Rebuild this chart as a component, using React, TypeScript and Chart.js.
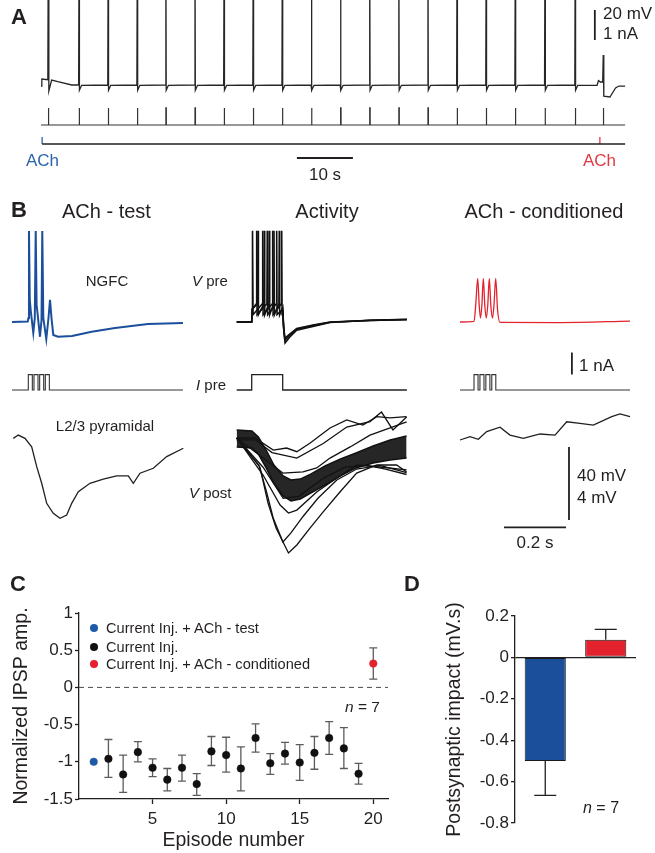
import React, { useEffect, useRef } from 'react';
import { Chart, registerables } from 'chart.js';
Chart.register(...registerables);

const FONT = '"Liberation Sans", Arial, Helvetica, sans-serif';
const INK = '#231f20';
const BLUE = '#1b4f9c';
const BLUE_DOT = '#1d5aa6';
const RED = '#e3222e';
const ACH_BLUE = '#2a64ad';
const ACH_RED = '#e03a45';

// ---------------- Panel A data (time in s, membrane in mV, current in nA) ----------------
const aOnset = [[0, -65.7], [0.15, -61], [1.22, -61.5], [1.3, 30], [1.4, -69], [1.9, -61.7], [3.0, -62.8], [5.5, -65]];
const aSpikeTimes = [6.8, 12.0, 17.2, 22.3, 27.5, 32.7, 37.9, 43.1, 48.3, 53.5, 58.7, 63.9, 69.1, 74.3, 79.5, 84.7, 90.0, 95.4];
const aSpikeShape = [[-0.08, -65], [0, 30], [0.06, -68.5], [0.45, -65.2]];
const aEnd = [[99.3, -65.2], [99.55, -62], [99.9, -63], [100.3, -63], [100.4, -45], [100.5, -72.5], [101.6, -73], [102.6, -67], [103.2, -65.7], [104.3, -65.7]];
const aStimTimes = [1.3, 6.8, 12.0, 17.2, 22.3, 27.5, 32.7, 37.9, 43.1, 48.3, 53.5, 58.7, 63.9, 69.1, 74.3, 79.5, 84.7, 90.0, 95.4, 100.4];
const aStimAmp = 0.57;
const aStimDur = 0.08;
const aEndTime = 104.3;
const aAchTimes = [0.2, 99.8];
const aAchColors = [ACH_BLUE, ACH_RED];
const aMvBar = { t: 98.9, from: -35, to: -15 };
const aTimeBar = { from: 45.7, to: 55.7, level: -2 };

// ---------------- Panel B data (time in ms, V pre in mV, I pre in nA, V post in mV rel.) ----------------
const bTestPre = [[0, -65], [50.6, -64.7], [53.2, -62.8], [54.8, -15.1], [57.4, -52.9], [60.6, -59], [68.7, -71], [73.5, -62.8], [76.5, -15.1], [79.4, -55.7], [82.6, -60.6], [90.3, -73.1], [95.2, -63.9], [97.7, -15.1], [101, -62.8], [110.6, -74.3], [117.7, -62.8], [122.6, -52.9], [127.4, -62.8], [133.2, -72.1], [148.4, -73.1], [193.5, -72.7], [257.1, -70.3], [332.3, -68.3], [438.7, -66.1], [551.6, -65.5]];
const bTestPulseStarts = [52.6, 70.9, 89.2, 107.5];
const bTestPost = [[4.2, -0.02], [20.3, 0.16], [41.9, -0.02], [63.5, -0.48], [79.7, -1.57], [95.8, -2.48], [111.9, -3.58], [133.2, -4.13], [154.8, -4.4], [176.5, -4.22], [192.6, -3.58], [213.9, -2.94], [251.6, -2.48], [294.5, -2.26], [337.7, -2.08], [375.2, -2.08], [391.3, -2.48], [412.9, -1.93], [455.8, -1.66], [499, -1.02], [552.6, -0.56]];
const bPulseDur = 13;
const bPulseAmp = 0.7;

const bActStep = [48.4, 148.4];
const bActOnset = [[0, -65], [48.4, -65], [50, -58]];
const bActSpikesA = [51.6, 83.9, 116.1, 145.2];
const bActSpikesB = [64.5, 98.7, 129.0];
const bActSpikesC = [68.8, 89.1, 105.2, 120.3, 137.4];
const bActSpikeShape = [[-1.2, -55], [0, -15], [1.2, -61]];
const bActTailA = [[148.6, -59], [151, -68], [156, -76.5], [170, -73.5], [193.5, -69.5], [246, -67.4], [301, -65.3], [430, -64], [549, -63.5]];
const bActTailB = [[148.6, -58], [151, -66], [155, -74], [170, -71.8], [193.5, -68.6], [246, -66.6], [301, -65], [430, -64.2], [549, -63.8]];
const bActTailC = [[148.6, -57], [151, -67], [156, -75], [170, -72.5], [193.5, -69], [246, -67], [301, -65.1], [430, -64.1], [549, -63.6]];
const bActEnvT = [0, 49, 70, 95, 120, 150, 175, 205, 240, 285, 335, 385, 440, 495, 548];
const bActEnvHi = [0.44, 0.38, 0.05, -0.66, -1.48, -2.08, -2.3, -2.25, -1.97, -1.53, -1.15, -0.82, -0.44, -0.11, 0.11];
const bActEnvLo = [-0.49, -0.55, -0.88, -1.64, -2.47, -3.18, -3.45, -3.34, -3.01, -2.58, -2.08, -1.64, -1.37, -1.21, -1.1];
const bActPostTop1 = [[0, 0], [59, 0], [118, -0.66], [161, -0.55], [194, -0.75], [237, -0.27], [301, 0.55], [355, 0.99], [407, 0.71], [452, 1.17], [495, 1.1], [548, 1.17]];
const bActPostTop2 = [[0, -0.1], [60, -0.1], [114, -0.8], [194, -1.1], [279, -0.3], [355, 0.6], [430, 0.9], [467, 1.42], [504, 0.44], [548, 1.15]];
const bActPostMid = [[0, 0], [85, -1.1], [149, -1.92], [214, -1.86], [258, -1.64], [301, -1.1], [366, -0.49], [430, 0.16], [495, 0.55], [548, 0.88]];
const bActPostDeepA = [[0, 0], [72, -1.5], [97, -3.0], [118, -4.4], [149, -5.7], [175, -5.2], [214, -4.3], [262, -3.3], [323, -2.3], [387, -1.7], [462, -1.5], [548, -1.9]];
const bActPostDeepB = [[0, 0], [75, -1.6], [101, -3.56], [127, -4.93], [167, -6.3], [194, -5.86], [237, -4.93], [279, -4.05], [333, -2.96], [387, -1.92], [452, -1.48], [516, -1.48], [548, -1.86]];
const bActPostLowA = [[0, 0], [85, -2.03], [140, -3.67], [167, -4.11], [194, -3.95], [258, -2.96], [323, -2.19], [387, -1.48], [462, -1.59], [548, -1.75]];
const bActPostLowB = [[0, 0], [85, -1.6], [150, -3.3], [200, -3.2], [280, -2.2], [350, -1.6], [420, -1.5], [480, -1.7], [548, -2.0]];

const bCondPre = [[0, -65], [45.2, -64.7], [51, -55], [57.1, -41.1], [62, -56], [66.1, -62.8], [70.5, -56], [75.2, -41.1], [80, -56], [84.8, -62.8], [89.5, -56], [94.5, -41.1], [99.5, -56], [104.8, -62.8], [109.5, -56], [115.2, -41.1], [121, -58], [129, -65.2], [322.6, -65.3], [548.4, -64.5]];
const bCondPulseStarts = [45.2, 64.3, 83.4, 102.5];
const bCondPost = [[0, -0.11], [32.3, 0.07], [59.1, -0.07], [86.1, 0.35], [129, 0.59], [161.3, 0.16], [204.2, -0.02], [258.1, 0.22], [306.5, 0.16], [344.2, 0.89], [387.1, 0.8], [430, 0.71], [489.4, 1.17], [516.1, 1.32], [548.4, 1.17]];
const bNaBar = { t: 361, from: 0.7, to: 1.7 };
const bMvBar = { t: 351.6, from: -0.5, to: -4.5 };
const bTimeBar = { from: 142, to: 342, level: -4.9 };

// ---------------- Panel C data ----------------
const cTestEpisode = [1];
const cTestValue = [-1.0];
const cInjEpisodes = [2, 3, 4, 5, 6, 7, 8, 9, 10, 11, 12, 13, 14, 15, 16, 17, 18, 19];
const cInjValues = [-0.96, -1.17, -0.87, -1.08, -1.24, -1.08, -1.3, -0.86, -0.91, -1.09, -0.68, -1.02, -0.89, -1.01, -0.88, -0.68, -0.82, -1.16];
const cInjUpper = [-0.7, -0.91, -0.73, -0.96, -1.09, -0.91, -1.16, -0.66, -0.67, -0.8, -0.49, -0.89, -0.74, -0.77, -0.66, -0.46, -0.54, -1.02];
const cInjLower = [-1.21, -1.41, -1.0, -1.2, -1.39, -1.26, -1.45, -1.05, -1.14, -1.39, -0.87, -1.17, -1.03, -1.25, -1.1, -0.9, -1.09, -1.3];
const cCondEpisode = [20];
const cCondValue = [0.32];
const cCondUpper = [0.53];
const cCondLower = [0.11];
const cXTicks = [5, 10, 15, 20];
const cLegend = ['Current Inj. + ACh - test', 'Current Inj.', 'Current Inj. + ACh - conditioned'];

// ---------------- Panel D data ----------------
const dLabels = ['ACh - test', 'ACh - conditioned'];
const dValues = [-0.5, 0.085];
const dErrEnd = [-0.667, 0.135];

// ---------------- helpers ----------------
type P = number[][];
const pts = (arr: P) => arr.map(([x, y]) => ({ x, y }));
function spikeTrain(onset: P, spikes: number[], shape: P, tail: P): P {
  const out: P = [...onset];
  spikes.forEach((s) => shape.forEach(([dt, v]) => out.push([s + dt, v])));
  return [...out, ...tail];
}
function pulses(starts: number[], dur: number, amp: number, tEnd: number): P {
  const out: P = [[0, 0]];
  starts.forEach((s) => out.push([s, 0], [s, amp], [s + dur, amp], [s + dur, 0]));
  out.push([tEnd, 0]);
  return out;
}
function line(data: P, yAxisID: string, color = INK, width = 1.2, extra: any = {}) {
  return { data: pts(data), yAxisID, borderColor: color, borderWidth: width, pointRadius: 0, fill: false, tension: 0, ...extra };
}
const hidden = (min: number, max: number, type = 'linear') => ({ type, min, max, display: false });
const cleanNum = (v: any) => `${+(+v).toFixed(2)}`;

const errorBars = {
  id: 'errorBars',
  beforeDatasetsDraw(chart: any) {
    const ctx = chart.ctx;
    chart.data.datasets.forEach((ds: any, i: number) => {
      if (!ds.errUpper) return;
      const meta = chart.getDatasetMeta(i);
      const ys = chart.scales[meta.yAxisID];
      ctx.save();
      ctx.strokeStyle = ds.errColor;
      ctx.lineWidth = ds.errWidth;
      meta.data.forEach((el: any, j: number) => {
        const x = el.x;
        const y1 = ys.getPixelForValue(ds.errUpper[j]);
        const y2 = ys.getPixelForValue(ds.errLower[j]);
        const caps = ds.capAt ? ds.capAt[j] : 'both';
        ctx.beginPath();
        ctx.moveTo(x, y1);
        ctx.lineTo(x, y2);
        if (caps === 'both' || caps === 'upper') { ctx.moveTo(x - ds.capHalf, y1); ctx.lineTo(x + ds.capHalf, y1); }
        if (caps === 'both' || caps === 'lower') { ctx.moveTo(x - ds.capHalf, y2); ctx.lineTo(x + ds.capHalf, y2); }
        ctx.stroke();
      });
      ctx.restore();
    });
  },
};

function ChartBox({ left, top, width, height, make }: { left: number; top: number; width: number; height: number; make: () => any }) {
  const ref = useRef<HTMLCanvasElement>(null);
  useEffect(() => {
    const cfg = make();
    cfg.options = {
      responsive: false,
      animation: false,
      devicePixelRatio: 1,
      events: [],
      ...cfg.options,
      plugins: { legend: { display: false }, tooltip: { enabled: false }, ...(cfg.options?.plugins || {}) },
    };
    const c = new Chart(ref.current as HTMLCanvasElement, cfg);
    return () => c.destroy();
  }, []);
  return <canvas ref={ref} width={width} height={height} style={{ position: 'absolute', left, top, width, height }} />;
}

function Label({ x, cy, size, children, align = 'left', color = INK, bold = false }: any) {
  return (
    <div
      style={{
        position: 'absolute', left: x, top: cy - size / 2, fontSize: size, lineHeight: `${size}px`,
        fontFamily: FONT, color, fontWeight: bold ? 700 : 400, whiteSpace: 'nowrap',
        transform: align === 'center' ? 'translateX(-50%)' : undefined,
      }}
    >
      {children}
    </div>
  );
}

// ---------------- chart configs ----------------
const A_PX_PER_S = 5.6;
const A_X0 = 41;
function makeA() {
  const vm = spikeTrain(aOnset, aSpikeTimes, aSpikeShape, aEnd);
  const im: P = [[0, 0]];
  aStimTimes.forEach((t) => im.push([t, 0], [t, aStimAmp], [t + aStimDur, aStimAmp], [t + aStimDur, 0]));
  im.push([aEndTime, 0]);
  const ds: any[] = [
    line(vm, 'vm', '#262626', 1.3),
    line(im, 'im', '#333', 1.2),
    line([[aAchTimes[0], 0], [aEndTime, 0]], 'ev', INK, 1.3),
    line([[aMvBar.t, aMvBar.from], [aMvBar.t, aMvBar.to]], 'vm', INK, 1.8),
    line([[aTimeBar.from, aTimeBar.level], [aTimeBar.to, aTimeBar.level]], 'ev', INK, 1.8),
  ];
  aAchTimes.forEach((t, i) => ds.push(line([[t, 0], [t, 1]], 'ev', aAchColors[i], 1.3)));
  return {
    type: 'line',
    data: { datasets: ds },
    options: {
      layout: { padding: 0 },
      scales: {
        x: hidden((0 - A_X0) / A_PX_PER_S, (655 - A_X0) / A_PX_PER_S),
        vm: hidden(-135, -8.333),
        im: hidden(-2.1667, 4.1667),
        ev: hidden(-6.571, 20.571),
      },
    },
  };
}

const B_PX_PER_MS = 0.31;
const B_TOP = 220;
const B_H = 345;
const bCols = {
  test: { left: 0, width: 200, x0: 12 },
  act: { left: 200, width: 230, x0: 236.7 },
  cond: { left: 440, width: 215, x0: 460 },
};
function bScales(col: { left: number; width: number; x0: number }) {
  return {
    x: hidden((col.left - col.x0) / B_PX_PER_MS, (col.left + col.width - col.x0) / B_PX_PER_MS),
    vpre: hidden(-198.15, -9.11),
    ipre: hidden(-7.955, 7.727),
    vpost: hidden(-6.959, 11.945),
  };
}
function makeBTest() {
  return {
    type: 'line',
    data: {
      datasets: [
        line(bTestPre, 'vpre', BLUE, 2),
        line(pulses(bTestPulseStarts, bPulseDur, bPulseAmp, 551.6), 'ipre', '#333', 1.1),
        line(bTestPost, 'vpost', INK, 1.3),
      ],
    },
    options: { layout: { padding: 0 }, scales: bScales(bCols.test) },
  };
}
function makeBAct() {
  const stepTrace: P = [[0, 0], [bActStep[0], 0], [bActStep[0], bPulseAmp], [bActStep[1], bPulseAmp], [bActStep[1], 0], [549, 0]];
  const envHi = bActEnvT.map((t, i) => [t, bActEnvHi[i]]);
  const envLo = bActEnvT.map((t, i) => [t, bActEnvLo[i]]);
  return {
    type: 'line',
    data: {
      datasets: [
        line(spikeTrain(bActOnset, bActSpikesA, bActSpikeShape, bActTailA), 'vpre', '#111', 1.6),
        line(spikeTrain(bActOnset, bActSpikesB, bActSpikeShape, bActTailB), 'vpre', '#111', 1.6),
        line(spikeTrain(bActOnset, bActSpikesC, bActSpikeShape, bActTailC), 'vpre', '#111', 1.6),
        line(stepTrace, 'ipre', '#222', 1.3),
        line(envHi, 'vpost', '#111', 1.5),
        line(envLo, 'vpost', '#111', 1.5, { fill: '-1', backgroundColor: 'rgba(20,20,20,0.92)' }),
        line(bActPostTop1, 'vpost', '#111', 1.3),
        line(bActPostTop2, 'vpost', '#111', 1.3),
        line(bActPostMid, 'vpost', '#111', 1.3),
        line(bActPostDeepA, 'vpost', '#111', 1.3),
        line(bActPostDeepB, 'vpost', '#111', 1.3),
        line(bActPostLowA, 'vpost', '#111', 1.3),
        line(bActPostLowB, 'vpost', '#111', 1.3),
      ],
    },
    options: { layout: { padding: 0 }, scales: bScales(bCols.act) },
  };
}
function makeBCond() {
  return {
    type: 'line',
    data: {
      datasets: [
        line(bCondPre, 'vpre', RED, 1.3, { cubicInterpolationMode: 'monotone' }),
        line(pulses(bCondPulseStarts, bPulseDur, bPulseAmp, 548.4), 'ipre', '#333', 1.1),
        line(bCondPost, 'vpost', INK, 1.3),
        line([[bNaBar.t, bNaBar.from], [bNaBar.t, bNaBar.to]], 'ipre', INK, 1.8),
        line([[bMvBar.t, bMvBar.from], [bMvBar.t, bMvBar.to]], 'vpost', INK, 1.8),
        line([[bTimeBar.from, bTimeBar.level], [bTimeBar.to, bTimeBar.level]], 'vpost', INK, 1.8),
      ],
    },
    options: { layout: { padding: 0 }, scales: bScales(bCols.cond) },
  };
}

const tickFont = { family: FONT, size: 17 };
const titleFont = { family: FONT, size: 19.5 };
function makeC() {
  const dot = (color: string) => ({ showLine: false, pointRadius: 3.8, pointBackgroundColor: color, pointBorderColor: color, pointBorderWidth: 0.5, borderColor: color });
  return {
    type: 'line',
    data: {
      datasets: [
        { data: [{ x: 0, y: 0 }, { x: 21, y: 0 }], borderColor: '#4a4a4a', borderWidth: 1, borderDash: [5, 4], pointRadius: 0, fill: false },
        { data: cTestEpisode.map((x, i) => ({ x, y: cTestValue[i] })), ...dot(BLUE_DOT) },
        { data: cInjEpisodes.map((x, i) => ({ x, y: cInjValues[i] })), ...dot('#111'), errUpper: cInjUpper, errLower: cInjLower, errColor: '#5c5c5c', errWidth: 1.3, capHalf: 4 },
        { data: cCondEpisode.map((x, i) => ({ x, y: cCondValue[i] })), ...dot(RED), errUpper: cCondUpper, errLower: cCondLower, errColor: '#5c5c5c', errWidth: 1.3, capHalf: 4 },
      ],
    },
    plugins: [errorBars],
    options: {
      layout: { padding: { top: 23, right: 12, left: 0, bottom: 0 } },
      scales: {
        x: {
          type: 'linear', min: 0, max: 21,
          ticks: { font: tickFont, color: INK, padding: 5, maxRotation: 0 },
          afterBuildTicks: (s: any) => { s.ticks = cXTicks.map((value) => ({ value })); },
          afterFit: (s: any) => { s.height = 54; },
          grid: { display: true, drawOnChartArea: false, drawTicks: true, tickLength: 5, tickColor: INK, tickWidth: 1.3 },
          border: { display: true, color: INK, width: 1.3 },
          title: { display: true, text: 'Episode number', font: titleFont, color: INK, padding: { top: 0, bottom: 1 } },
        },
        y: {
          type: 'linear', min: -1.5, max: 1,
          ticks: { stepSize: 0.5, font: tickFont, color: INK, padding: 2, callback: cleanNum },
          afterFit: (s: any) => { s.width = 79; },
          grid: { display: true, drawOnChartArea: false, drawTicks: true, tickLength: 4, tickColor: INK, tickWidth: 1.3 },
          border: { display: true, color: INK, width: 1.3 },
          title: { display: true, text: 'Normalized IPSP amp.', font: titleFont, color: INK, padding: { top: 10, bottom: 0 } },
        },
      },
    },
  };
}

function makeD() {
  return {
    type: 'bar',
    data: {
      labels: dLabels,
      datasets: [
        {
          data: dValues,
          backgroundColor: [BLUE, RED],
          borderColor: '#1a1a1a',
          borderWidth: 1,
          borderSkipped: false,
          barPercentage: 0.68,
          categoryPercentage: 1,
          errUpper: dValues.map((v, i) => (v < 0 ? v : dErrEnd[i])),
          errLower: dValues.map((v, i) => (v < 0 ? dErrEnd[i] : v)),
          capAt: dValues.map((v) => (v < 0 ? 'lower' : 'upper')),
          errColor: INK, errWidth: 1.3, capHalf: 11,
        },
      ],
    },
    plugins: [errorBars],
    options: {
      layout: { padding: { top: 26, right: 19, left: 0, bottom: 30 } },
      scales: {
        x: { display: false },
        y: {
          type: 'linear', min: -0.8, max: 0.2,
          ticks: { stepSize: 0.2, font: tickFont, color: INK, padding: 2, callback: cleanNum },
          afterFit: (s: any) => { s.width = 95; },
          grid: {
            display: true, drawOnChartArea: true, drawTicks: true, tickLength: 4, tickColor: INK, tickWidth: 1.3,
            color: (c: any) => (c.tick && Math.abs(c.tick.value) < 1e-9 ? INK : 'rgba(0,0,0,0)'), lineWidth: 1.3,
          },
          border: { display: true, color: INK, width: 1.3 },
          title: { display: true, text: 'Postsynaptic impact (mV.s)', font: titleFont, color: INK, padding: { top: 23, bottom: 0 } },
        },
      },
    },
  };
}

export default function App() {
  useEffect(() => {
    document.body.style.margin = '0';
  }, []);
  Chart.defaults.font.family = FONT;
  const legendColors = [BLUE_DOT, '#111', RED];
  const legendY = [628, 647, 664];
  return (
    <div style={{ position: 'absolute', left: 0, top: 0, width: 655, height: 853, overflow: 'hidden', background: '#fff', fontFamily: FONT }}>
      <ChartBox left={0} top={0} width={655} height={190} make={makeA} />
      <ChartBox left={bCols.test.left} top={B_TOP} width={bCols.test.width} height={B_H} make={makeBTest} />
      <ChartBox left={bCols.act.left} top={B_TOP} width={bCols.act.width} height={B_H} make={makeBAct} />
      <ChartBox left={bCols.cond.left} top={B_TOP} width={bCols.cond.width} height={B_H} make={makeBCond} />
      <ChartBox left={0} top={590} width={400} height={263} make={makeC} />
      <ChartBox left={420} top={590} width={235} height={263} make={makeD} />

      {/* Panel A text */}
      <Label x={11} cy={17} size={22} bold>A</Label>
      <Label x={603} cy={13} size={17}>20 mV</Label>
      <Label x={603} cy={33} size={17}>1 nA</Label>
      <Label x={26} cy={160} size={17} color={ACH_BLUE}>ACh</Label>
      <Label x={583} cy={160} size={17} color={ACH_RED}>ACh</Label>
      <Label x={325} cy={174} size={17} align="center">10 s</Label>

      {/* Panel B text */}
      <Label x={11} cy={210} size={22} bold>B</Label>
      <Label x={62} cy={211} size={20}>ACh - test</Label>
      <Label x={327} cy={211} size={20} align="center">Activity</Label>
      <Label x={544} cy={211} size={20} align="center">ACh - conditioned</Label>
      <Label x={107} cy={280} size={15} align="center">NGFC</Label>
      <Label x={192} cy={280} size={15}><i>V</i> pre</Label>
      <Label x={196} cy={384} size={15}><i>I</i> pre</Label>
      <Label x={105} cy={425} size={15} align="center">L2/3 pyramidal</Label>
      <Label x={189} cy={492} size={15}><i>V</i> post</Label>
      <Label x={579} cy={365} size={17}>1 nA</Label>
      <Label x={577} cy={475} size={17}>40 mV</Label>
      <Label x={577} cy={497} size={17}>4 mV</Label>
      <Label x={535} cy={542} size={17} align="center">0.2 s</Label>

      {/* Panel C text */}
      <Label x={10} cy={584} size={22} bold>C</Label>
      {cLegend.map((t, i) => (
        <React.Fragment key={t}>
          <div style={{ position: 'absolute', left: 90, top: legendY[i] - 4, width: 8, height: 8, borderRadius: 4, background: legendColors[i] }} />
          <Label x={106} cy={legendY[i]} size={14.6}>{t}</Label>
        </React.Fragment>
      ))}
      <Label x={345} cy={707} size={15.5}><i>n</i> = 7</Label>

      {/* Panel D text */}
      <Label x={404} cy={584} size={22} bold>D</Label>
      <Label x={583} cy={808} size={16}><i>n</i> = 7</Label>
    </div>
  );
}
